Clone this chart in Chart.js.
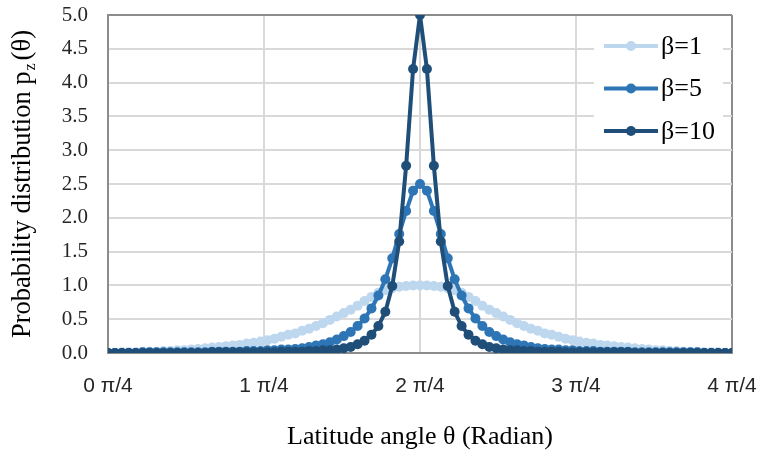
<!DOCTYPE html>
<html>
<head>
<meta charset="utf-8">
<script src="https://cdn.jsdelivr.net/npm/chart.js@4.4.0/dist/chart.umd.min.js"></script>
<style>
  body { margin: 0; background: #fff; }
  #wrap { width: 759px; height: 454px; }
</style>
</head>
<body>
<div id="wrap"><canvas id="lineChart" width="759" height="454"></canvas></div>
<script>
// latitude angle in degrees (0 .. 180 = 0 .. 4 pi/4)
var thetaDeg = [0, 2, 4, 6, 8, 10, 12, 14, 16, 18, 20, 22, 24, 26, 28, 30, 32, 34, 36, 38,
    40, 42, 44, 46, 48, 50, 52, 54, 56, 58, 60, 62, 64, 66, 68, 70, 72, 74, 76, 78,
    80, 82, 84, 86, 88, 90, 92, 94, 96, 98, 100, 102, 104, 106, 108, 110, 112, 114, 116, 118,
    120, 122, 124, 126, 128, 130, 132, 134, 136, 138, 140, 142, 144, 146, 148, 150, 152, 154, 156, 158,
    160, 162, 164, 166, 168, 170, 172, 174, 176, 178, 180];

var beta1 = [0.00, 0.00, 0.01, 0.01, 0.01, 0.02, 0.02, 0.02, 0.03, 0.03, 0.04, 0.04, 0.05, 0.06, 0.07,
    0.08, 0.09, 0.10, 0.11, 0.12, 0.14, 0.15, 0.17, 0.19, 0.21, 0.24, 0.27, 0.29, 0.33, 0.36,
    0.40, 0.44, 0.49, 0.54, 0.59, 0.64, 0.70, 0.77, 0.83, 0.89, 0.93, 0.96, 0.98, 0.99, 1.00,
    1.00,
    1.00, 0.99, 0.98, 0.96, 0.93, 0.89, 0.83, 0.77, 0.70, 0.64, 0.59, 0.54, 0.49, 0.44, 0.40,
    0.36, 0.33, 0.29, 0.27, 0.24, 0.21, 0.19, 0.17, 0.15, 0.14, 0.12, 0.11, 0.10, 0.09, 0.08,
    0.07, 0.06, 0.05, 0.04, 0.04, 0.03, 0.03, 0.02, 0.02, 0.02, 0.01, 0.01, 0.01, 0.00, 0.00];

var beta5 = [0.00, 0.00, 0.00, 0.00, 0.00, 0.01, 0.01, 0.01, 0.01, 0.01, 0.01, 0.01, 0.01, 0.01, 0.01,
    0.02, 0.02, 0.02, 0.02, 0.02, 0.03, 0.03, 0.03, 0.04, 0.04, 0.05, 0.05, 0.06, 0.07, 0.09,
    0.11, 0.13, 0.16, 0.20, 0.25, 0.31, 0.40, 0.51, 0.66, 0.85, 1.09, 1.40, 1.76, 2.10, 2.40,
    2.50,
    2.40, 2.10, 1.76, 1.40, 1.09, 0.85, 0.66, 0.51, 0.40, 0.31, 0.25, 0.20, 0.16, 0.13, 0.11,
    0.09, 0.07, 0.06, 0.05, 0.05, 0.04, 0.04, 0.03, 0.03, 0.03, 0.02, 0.02, 0.02, 0.02, 0.02,
    0.01, 0.01, 0.01, 0.01, 0.01, 0.01, 0.01, 0.01, 0.01, 0.01, 0.00, 0.00, 0.00, 0.00, 0.00];

var beta10 = [0.00, 0.00, 0.00, 0.00, 0.00, 0.00, 0.00, 0.00, 0.00, 0.00, 0.00, 0.00, 0.00, 0.00, 0.00,
    0.01, 0.01, 0.01, 0.01, 0.01, 0.01, 0.01, 0.01, 0.01, 0.01, 0.02, 0.02, 0.02, 0.02, 0.03,
    0.03, 0.04, 0.04, 0.05, 0.07, 0.09, 0.13, 0.18, 0.27, 0.40, 0.61, 0.99, 1.65, 2.77, 4.20,
    5.00,
    4.20, 2.77, 1.65, 0.99, 0.61, 0.40, 0.27, 0.18, 0.13, 0.09, 0.07, 0.05, 0.04, 0.04, 0.03,
    0.03, 0.02, 0.02, 0.02, 0.02, 0.01, 0.01, 0.01, 0.01, 0.01, 0.01, 0.01, 0.01, 0.01, 0.01,
    0.00, 0.00, 0.00, 0.00, 0.00, 0.00, 0.00, 0.00, 0.00, 0.00, 0.00, 0.00, 0.00, 0.00, 0.00];

var seriesNames = ['β=1', 'β=5', 'β=10'];
var seriesColors = ['#bdd7ee', '#2e75b6', '#1f4e79'];
var xTickStep = 45;   // degrees per pi/4
var yTickStep = 0.5;

function toPoints(values) {
    return values.map((v, i) => ({ x: thetaDeg[i], y: v }));
}

function makeDataset(idx, values) {
    return {
        label: seriesNames[idx],
        data: toPoints(values),
        borderColor: seriesColors[idx],
        backgroundColor: seriesColors[idx],
        pointBackgroundColor: seriesColors[idx],
        pointBorderWidth: 0,
        pointRadius: 5,
        borderWidth: 4,
        tension: 0,
        order: 2 - idx
    };
}

// axis titles + legend drawn on the canvas
var decorPlugin = {
    id: 'decor',
    afterDraw(chart) {
        var ctx = chart.ctx;
        var area = chart.chartArea;
        ctx.save();
        ctx.fillStyle = '#000';
        ctx.textBaseline = 'middle';

        // x axis title
        ctx.font = '26px "Liberation Serif"';
        ctx.textAlign = 'center';
        ctx.fillText('Latitude angle θ (Radian)', (area.left + area.right) / 2, 437);

        // y axis title with subscript z
        var main = 'Probability distribution p';
        var sub = 'z';
        var tail = '(θ)';
        ctx.font = '26.5px "Liberation Serif"';
        var wMain = ctx.measureText(main).width;
        var wTail = ctx.measureText(tail).width;
        ctx.font = '16px "Liberation Serif"';
        var wSub = ctx.measureText(sub).width;
        var total = wMain + wSub + 4 + wTail;
        ctx.translate(23, (area.top + area.bottom) / 2);
        ctx.rotate(-Math.PI / 2);
        ctx.textAlign = 'left';
        var sx = -total / 2;
        ctx.font = '26.5px "Liberation Serif"';
        ctx.fillText(main, sx, 0);
        ctx.font = '16px "Liberation Serif"';
        ctx.fillText(sub, sx + wMain + 1, 8);
        ctx.font = '26.5px "Liberation Serif"';
        ctx.fillText(tail, sx + wMain + wSub + 4, 0);
        ctx.restore();

        // legend
        ctx.save();
        ctx.fillStyle = '#fff';
        ctx.fillRect(594, 28, 129, 117);
        var rows = [46, 88.5, 131];
        ctx.font = '26px "Liberation Serif"';
        ctx.textBaseline = 'middle';
        ctx.textAlign = 'left';
        for (var i = 0; i < 3; i++) {
            ctx.strokeStyle = seriesColors[i];
            ctx.lineWidth = 4;
            ctx.beginPath();
            ctx.moveTo(604, rows[i]);
            ctx.lineTo(658, rows[i]);
            ctx.stroke();
            ctx.fillStyle = seriesColors[i];
            ctx.beginPath();
            ctx.arc(631, rows[i], 5, 0, Math.PI * 2);
            ctx.fill();
            ctx.fillStyle = '#000';
            ctx.fillText(seriesNames[i], 661, rows[i] + 1);
        }
        ctx.restore();
    }
};

var ctx = document.getElementById('lineChart').getContext('2d');
var lineChart = new Chart(ctx, {
    type: 'line',
    data: {
        datasets: [makeDataset(0, beta1), makeDataset(1, beta5), makeDataset(2, beta10)]
    },
    options: {
        responsive: false,
        animation: false,
        layout: { padding: { top: 15, right: 27, left: 0, bottom: 0 } },
        plugins: {
            legend: { display: false },
            tooltip: { enabled: false }
        },
        scales: {
            x: {
                type: 'linear',
                min: 0,
                max: 180,
                afterFit: s => {
                    s.height = 101;
                    s.paddingLeft = 0;
                    s.paddingRight = 0;
                },
                ticks: {
                    stepSize: xTickStep,
                    callback: v => (v / xTickStep) + ' π/4',
                    font: { family: '"Liberation Sans"', size: 21 },
                    color: '#262626',
                    padding: 21,
                    maxRotation: 0
                },
                grid: {
                    color: c => (c.tick && c.tick.value === 180) ? '#8c8c8c' : '#d9d9d9',
                    lineWidth: 2,
                    drawTicks: false
                },
                border: { color: '#8c8c8c', width: 2 }
            },
            y: {
                min: 0,
                max: 5,
                afterFit: s => {
                    s.width = 108;
                    s.paddingTop = 0;
                    s.paddingBottom = 0;
                },
                ticks: {
                    stepSize: yTickStep,
                    callback: v => v.toFixed(1),
                    font: { family: '"Liberation Serif"', size: 21 },
                    color: '#262626',
                    padding: 20
                },
                grid: {
                    color: c => (c.tick && c.tick.value === 5) ? '#8c8c8c' : '#d9d9d9',
                    lineWidth: 2,
                    drawTicks: false
                },
                border: { color: '#8c8c8c', width: 2 }
            }
        }
    },
    plugins: [decorPlugin]
});
</script>
</body>
</html>
